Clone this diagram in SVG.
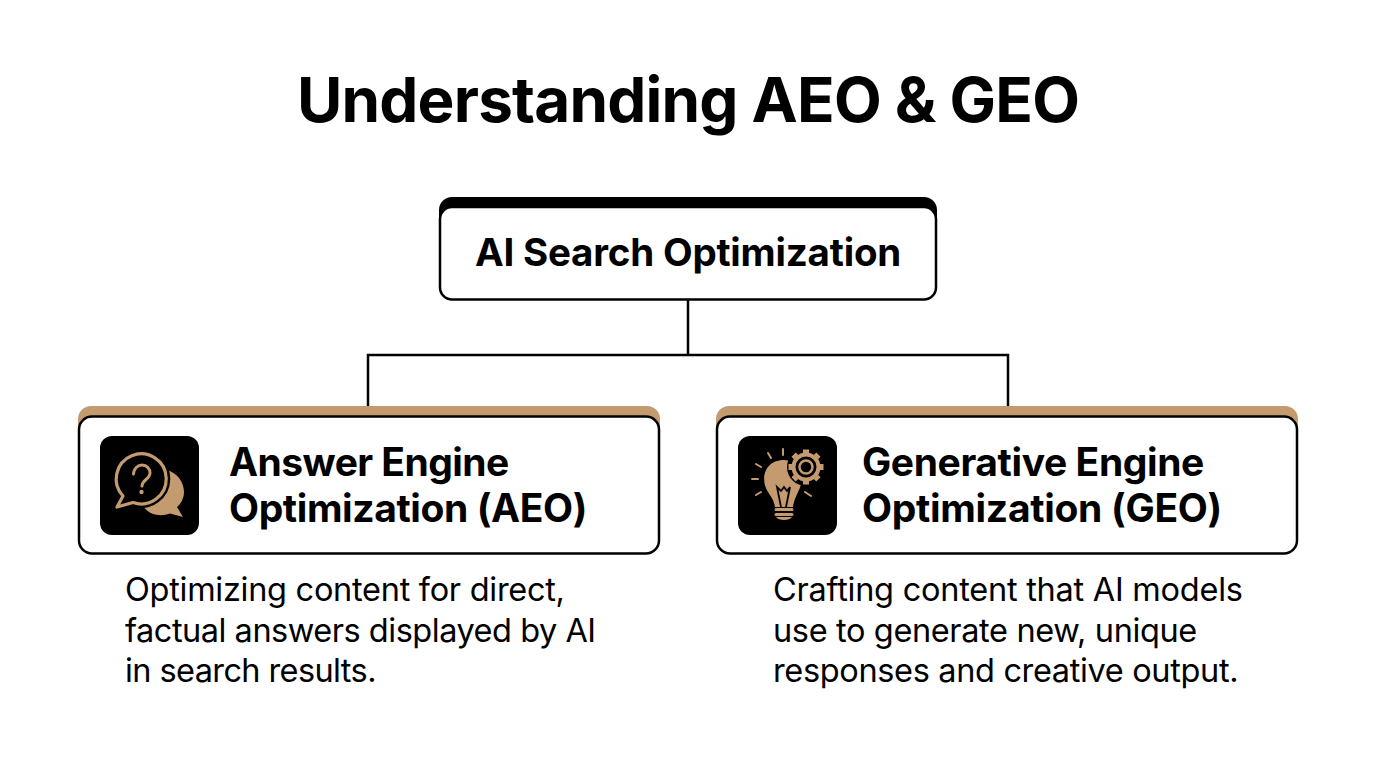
<svg xmlns="http://www.w3.org/2000/svg" width="1376" height="768" viewBox="0 0 1376 768">
<style>
text{font-family:Inter,"Liberation Sans",sans-serif;fill:#000}
.h{font-weight:700;font-size:39px;letter-spacing:-.4px}
.d{font-size:32.5px;font-weight:400;letter-spacing:-.48px}
.box{fill:#fff;stroke:#000;stroke-width:2.5}
.tan{fill:#c49a6f}
.st{fill:none;stroke:#c49a6f;stroke-linecap:round;stroke-linejoin:round}
.c{fill:none;stroke:#000;stroke-width:2.5}
</style>
<rect width="1376" height="768" fill="#fff"/>
<text id="title" x="688" y="122" text-anchor="middle" font-size="62" font-weight="700" letter-spacing="-.8">Understanding AEO &amp; GEO</text>
<g id="connectors"><path class="c" d="M688 299V355M368 407V355H1008V407"/></g>
<g id="root">
<rect x="439" y="197" width="498" height="60" rx="13" fill="#000"/>
<rect class="box" x="440" y="207" width="496" height="92.500" rx="12"/>
<text x="688" y="266" text-anchor="middle" font-size="38.500" font-weight="700" letter-spacing="-.2">AI Search Optimization</text>
</g>
<g id="aeo">
<rect class="tan" x="78" y="406" width="582" height="60" rx="13"/>
<rect class="box" x="79" y="416.500" width="580" height="137" rx="13"/>
<rect x="100" y="436" width="99" height="99" rx="12" fill="#000"/>
<path class="tan" d="M166 470C177 472 184 482 184 492C184 498 181 504 177 507L183 517L170 513.500C160 517 149 515 143 506Z"/>
<path d="M123 496A25 25 0 1 1 133 502.500L117 507Z" fill="#000" stroke="#000" stroke-width="8" stroke-linejoin="round"/>
<path class="st" stroke-width="3.200" d="M123 496A25 25 0 1 1 133 502.500L117 507Z"/>
<path class="st" stroke-width="3" d="M133.500 474C134 468 138 465 142 465C147 465 150 469 150 473C150 479 142 480 142 486"/>
<circle class="tan" cx="141.500" cy="492" r="2.200"/>
<text class="h" x="229" y="476" style="letter-spacing:-.55px">Answer Engine</text>
<text class="h" x="229" y="522">Optimization (AEO)</text>
</g>
<g id="geo">
<rect class="tan" x="716" y="406" width="582" height="60" rx="13"/>
<rect class="box" x="717" y="416.500" width="580" height="137" rx="13"/>
<rect x="738" y="436" width="99" height="99" rx="12" fill="#000"/>
<path class="tan" d="M775 507C774 500 771 497 768 492C760 480 764 460 784 460C800 460 806 478 798 492C796 497 794 500 793 507Z"/>
<circle cx="806" cy="467" r="19" fill="#000"/>
<path d="M781 507L777 487L781 491L784 487L787 491L790 487L786 507" fill="none" stroke="#000" stroke-width="1.800"/>
<path class="st" stroke-width="3" d="M776 509.500H792M776 514.500H792"/>
<path class="tan" d="M776 517H792C790 521 778 521 776 517Z"/>
<path class="st" stroke-width="2" d="M783 449V455M768 453L771 458M756 464L761 467M752 479H758M756 495L761 492M805 492L811 496"/>
<circle cx="806" cy="467" r="12.500" fill="none" stroke="#c49a6f" stroke-width="4"/>
<circle cx="806" cy="467" r="6.500" fill="none" stroke="#c49a6f" stroke-width="2.500"/>
<path stroke="#c49a6f" fill="none" stroke-width="6" d="M806 453V449.500M806 481V484.500M820 467H823.500M792 467H788.500M815.900 457.100L818.400 454.600M796.100 476.900L793.600 479.400M815.900 476.900L818.400 479.400M796.100 457.100L793.600 454.600"/>
<text class="h" x="862" y="476">Generative Engine</text>
<text class="h" x="862" y="522" style="letter-spacing:-.3px">Optimization (GEO)</text>
</g>
<g id="aeo-desc">
<text class="d" x="125" y="601" style="letter-spacing:-.28px">Optimizing content for direct,</text>
<text class="d" x="125" y="642">factual answers displayed by AI</text>
<text class="d" x="125" y="682" style="letter-spacing:-.6px">in search results.</text>
</g>
<g id="geo-desc">
<text class="d" x="773" y="601" style="letter-spacing:-.25px">Crafting content that AI models</text>
<text class="d" x="773" y="642" style="letter-spacing:-.37px">use to generate new, unique</text>
<text class="d" x="773" y="682" style="letter-spacing:-.35px">responses and creative output.</text>
</g>
</svg>
